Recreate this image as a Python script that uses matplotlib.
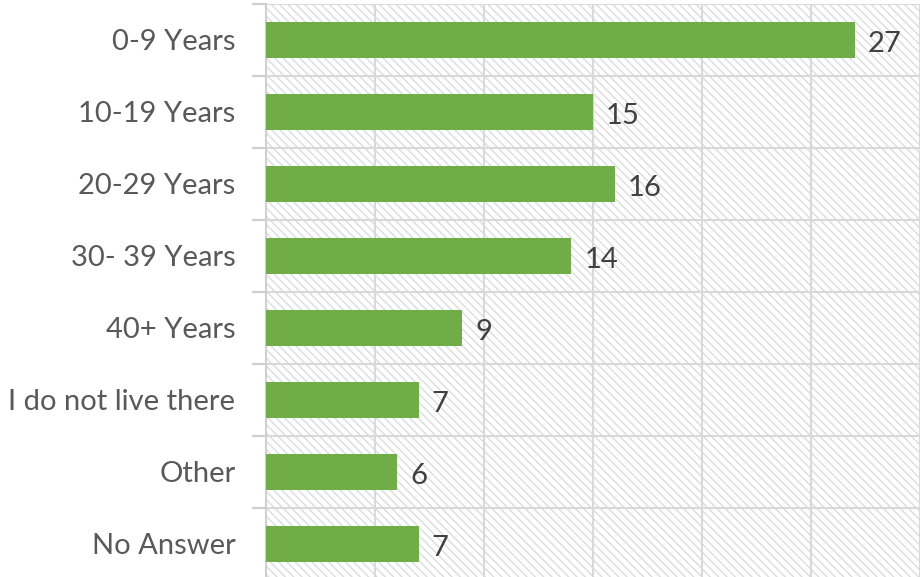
import matplotlib
matplotlib.use("Agg")
import matplotlib.pyplot as plt
import numpy as np

categories = ["0-9 Years", "10-19 Years", "20-29 Years", "30- 39 Years",
              "40+ Years", "I do not live there", "Other", "No Answer"]
values = [27, 15, 16, 14, 9, 7, 6, 7]

plt.rcParams['font.family'] = ['Lato', 'DejaVu Sans']
plt.rcParams['hatch.color'] = '#dcdcdc'
plt.rcParams['hatch.linewidth'] = 1.0

fig = plt.figure(figsize=(9.22, 5.77), dpi=100)
W, H = 922, 577
left, right = 266 / W, 920 / W
top_px, bot_px = 4, 580
ax = fig.add_axes([left, 1 - bot_px / H, right - left, (bot_px - top_px) / H])

n = len(categories)
y = np.arange(n)
ax.set_xlim(0, 30)
ax.set_ylim(n - 0.5, -0.5)

ax.patch.set_facecolor('white')
ax.patch.set_hatch('\\\\\\\\')
ax.patch.set_edgecolor('#dcdcdc')
ax.patch.set_linewidth(0)

ax.barh(y, values, height=0.5, color='#70ad47', zorder=3)

grid_c = '#d9d9d9'
for xv in range(5, 31, 5):
    ax.axvline(xv, color=grid_c, lw=1.5, zorder=2)
for yb in np.arange(-0.5, n, 1.0):
    ax.axhline(yb, color=grid_c, lw=1.5, zorder=2)

for s in ['top', 'right', 'bottom']:
    ax.spines[s].set_visible(False)
ax.spines['left'].set_color('#d0d0d0')
ax.spines['left'].set_linewidth(1.5)

ax.set_xticks([])
ax.set_yticks(np.arange(-0.5, n, 1.0), minor=False)
ax.set_yticklabels([])
ax.tick_params(axis='y', which='major', length=10, width=1.5, color='#d0d0d0', direction='out')
ax.set_yticks(y, minor=True)
ax.set_yticklabels(categories, minor=True, fontsize=21, color='#595959')
ax.tick_params(axis='y', which='minor', length=0, pad=22)

for yi, v in zip(y, values):
    ax.text(v + 0.6, yi + 0.05, str(v), va='center', ha='left', fontsize=21, color='#404040', zorder=4)

fig.savefig('out.png', dpi=100)
